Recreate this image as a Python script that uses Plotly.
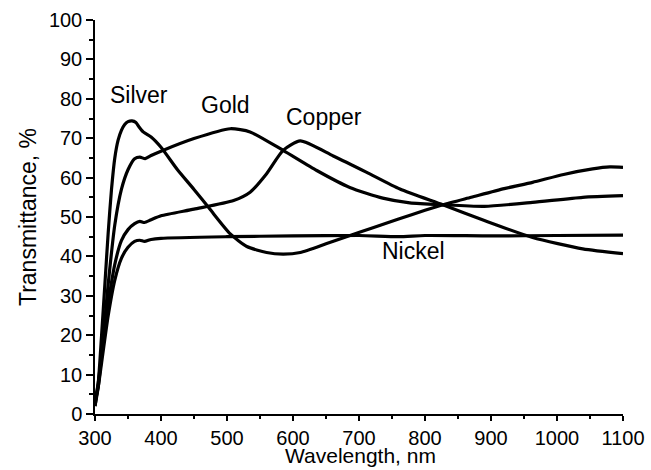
import plotly.graph_objects as go

# Silver
silver_x = [300, 305, 310, 315, 320, 325, 330, 335, 340, 345, 350, 356, 362, 367, 373, 385, 400, 425, 450, 474, 505, 530, 560, 585, 611, 650, 681, 720, 760, 800, 827, 870, 920, 963, 1010, 1054, 1080, 1100]
silver_y = [2, 8, 20, 33, 46, 57, 65, 69.5, 72, 73.5, 74.2, 74.4, 74, 72.8, 71.6, 70.3, 67.7, 62, 57, 52, 45.7, 42.5, 41, 40.6, 41, 43.2, 45, 47.2, 49.5, 51.7, 53.1, 55, 57.2, 58.8, 60.8, 62.2, 62.7, 62.6]
# Gold
gold_x = [300, 305, 310, 315, 320, 330, 340, 350, 360, 368, 376, 385, 400, 450, 505, 535, 585, 636, 686, 736, 777, 827, 890, 963, 1039, 1100]
gold_y = [2, 7, 15, 24, 33, 48, 57, 62, 64.8, 65.2, 64.8, 65.6, 66.7, 69.9, 72.4, 71.6, 66.9, 61.8, 57.5, 54.8, 53.6, 53.1, 52.7, 53.7, 55, 55.4]
# Copper
copper_x = [300, 305, 310, 320, 330, 340, 350, 360, 368, 375, 385, 400, 450, 510, 535, 560, 585, 611, 661, 711, 762, 827, 890, 963, 1039, 1100]
copper_y = [3, 8, 15, 28, 38, 44, 46.8, 48.3, 48.9, 48.6, 49.3, 50.3, 52, 54.2, 56.3, 61, 66.9, 69.3, 65.5, 61.4, 57.1, 53.1, 49.1, 44.8, 41.9, 40.7]
# Nickel
nickel_x = [300, 305, 310, 320, 330, 340, 350, 360, 368, 375, 385, 400, 500, 600, 700, 760, 800, 900, 1000, 1100]
nickel_y = [3, 7, 13, 25, 34, 39.5, 42.3, 43.8, 44.1, 43.8, 44.3, 44.6, 45, 45.2, 45.3, 45.0, 45.3, 45.2, 45.3, 45.4]

labels = ["Silver", "Gold", "Copper", "Nickel"]
label_x = [366, 497, 647, 782]
label_y = [80.9, 78.4, 75.4, 41.4]

x_ticks = [300, 400, 500, 600, 700, 800, 900, 1000, 1100]
y_ticks = [0, 10, 20, 30, 40, 50, 60, 70, 80, 90, 100]
x_title = "Wavelength, nm"
y_title = "Transmittance, %"

FONT = "Liberation Sans, Arial, sans-serif"

fig = go.Figure()
for xs, ys in [(silver_x, silver_y), (gold_x, gold_y), (copper_x, copper_y), (nickel_x, nickel_y)]:
    fig.add_trace(go.Scatter(x=xs, y=ys, mode="lines",
                             line=dict(color="black", width=3.2, shape="spline", smoothing=0.6),
                             showlegend=False, hoverinfo="skip"))

for t, lx, ly in zip(labels, label_x, label_y):
    fig.add_annotation(x=lx, y=ly, text=t, showarrow=False,
                       font=dict(family=FONT, size=23, color="black"))

# x-axis title placed as annotation to sit tight under tick labels
fig.add_annotation(xref="paper", yref="paper", x=0.502, y=-0.136, yanchor="bottom",
                   text=x_title, showarrow=False, borderpad=0,
                   font=dict(family=FONT, size=21, color="black"))

fig.update_layout(
    width=651, height=470,
    margin=dict(l=95, r=28, t=20, b=56),
    paper_bgcolor="white", plot_bgcolor="white",
    font=dict(family=FONT, size=20, color="black"),
)
fig.update_xaxes(range=[300, 1100], tickvals=x_ticks, showgrid=False, zeroline=False,
                 showline=True, linecolor="black", linewidth=1.5, automargin=False,
                 ticks="outside", ticklen=5, tickwidth=1.5, tickcolor="black",
                 minor=dict(dtick=50, ticks="outside", ticklen=3, tickwidth=1.5, tickcolor="black", showgrid=False),
                 tickfont=dict(size=20))
fig.update_yaxes(range=[0, 100], tickvals=y_ticks, showgrid=False, zeroline=False,
                 showline=True, linecolor="black", linewidth=1.5, automargin=False,
                 ticks="outside", ticklen=7, tickwidth=1.5, tickcolor="black",
                 minor=dict(dtick=5, ticks="outside", ticklen=4, tickwidth=1.5, tickcolor="black", showgrid=False),
                 title=dict(text=y_title, font=dict(size=23), standoff=6),
                 tickfont=dict(size=20))

fig.write_html("out.html")
